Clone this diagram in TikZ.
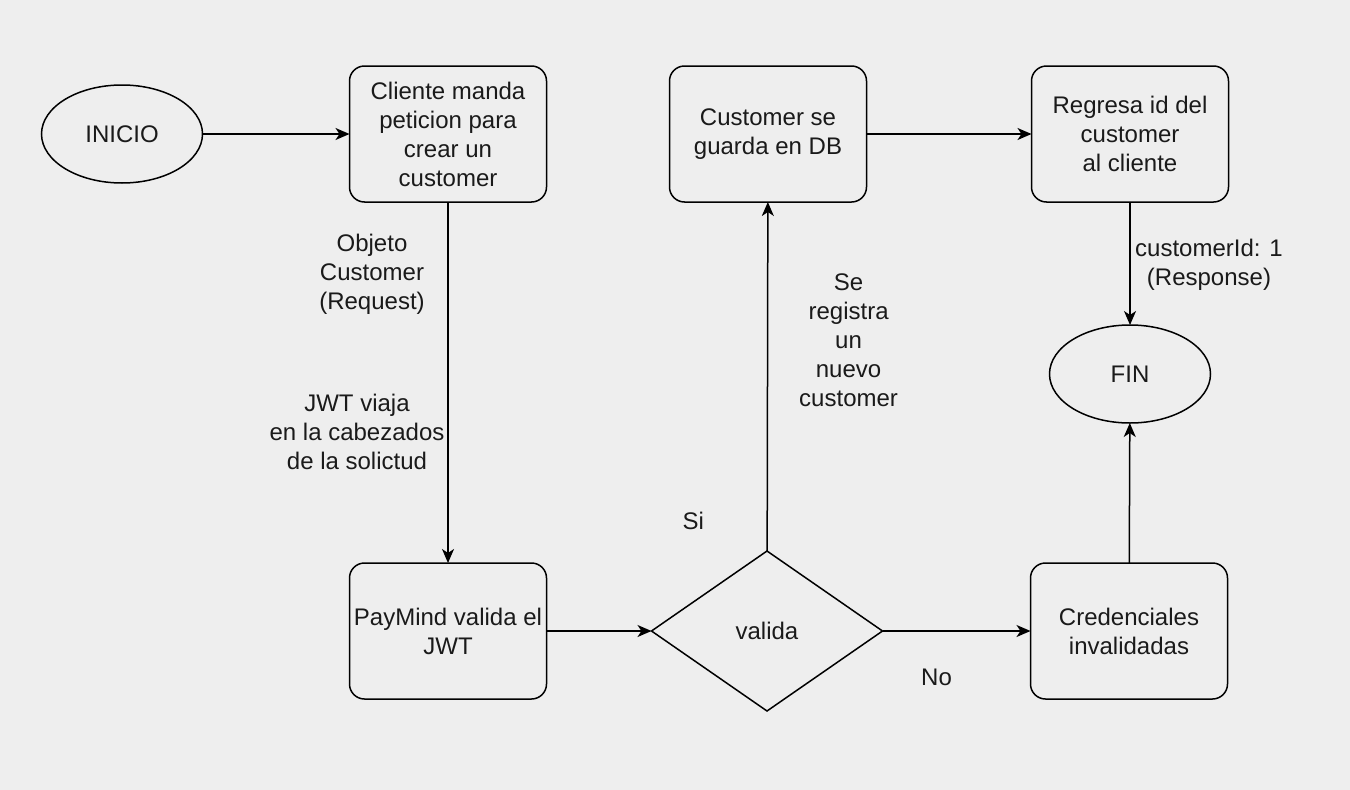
\documentclass[tikz,border=0pt]{standalone}
\usepackage{fontspec}
\setmainfont{Liberation Sans}
\usetikzlibrary{shapes.geometric, arrows.meta, positioning}

\definecolor{fondo}{HTML}{EEEEEE}
\definecolor{texto}{HTML}{1A1A1A}

\begin{document}
\begin{tikzpicture}[x=1pt,y=-1pt,
    font=\fontsize{24}{29}\selectfont, text=texto]

      \tikzstyle{inicio}=[ellipse,draw,line width=1.5pt,outer sep=0pt,
        minimum width=161pt,minimum height=98pt,inner sep=0pt]
      \tikzstyle{proceso}=[rectangle,rounded corners=15pt,draw,
        line width=1.5pt,outer sep=0pt,minimum width=197pt,
        minimum height=136pt,text centered,align=center]
      \tikzstyle{decision}=[diamond,draw,line width=1.5pt,outer sep=0pt,
        minimum width=231pt,minimum height=160pt,inner sep=0pt]
      \tikzstyle{flecha}=[line width=1.5pt,
        -{Stealth[length=14pt,width=12pt,inset=4pt]}]

      \fill[fondo] (0,0) rectangle (1350,790);
      \useasboundingbox (0,0) rectangle (1350,790);

      \node(INICIO)[inicio] at (122,134){INICIO};
      \node(Cliente)[proceso,right=147pt of INICIO]
        {Cliente manda\\peticion para\\crear un\\customer};
      \node(Guarda)[proceso,right=123pt of Cliente]
        {Customer se\\guarda en DB};
      \node(Regresa)[proceso,right=165pt of Guarda]
        {Regresa id del\\customer\\al cliente};
      \node(FIN)[inicio,below=123pt of Regresa]{FIN};

      \node(PayMind)[proceso,below=361pt of Cliente]
        {PayMind valida el\\JWT};
      \node(Valida)[decision,right=105pt of PayMind]{valida};
      \node(Credenciales)[proceso,right=148pt of Valida]
        {Credenciales\\invalidadas};

      \draw [flecha] (INICIO)--(Cliente);
      \draw [flecha] (Cliente)--(PayMind)
        node[pos=0.2,xshift=-76pt,align=center]
          {Objeto\\Customer\\(Request)}
        node[pos=0.637,xshift=-91pt,align=center]
          {JWT viaja\\en la cabezados\\de la solictud};
      \draw [flecha] (PayMind)--(Valida);
      \draw [flecha] (Valida)--(Guarda)
        node[pos=0.086,xshift=-74pt]{Si}
        node[pos=0.605,xshift=81pt,align=center]
          {Se\\registra\\un\\nuevo\\customer};
      \draw [flecha] (Valida)--(Credenciales)
        node[pos=0.365,yshift=-46pt]{No};
      \draw [flecha] (Guarda)--(Regresa);
      \draw [flecha] (Regresa)--(FIN)
        node[pos=0.51,xshift=79pt,align=center]
          {customerId: 1\\(Response)};
      \draw [flecha] (Credenciales)--(FIN);

    \end{tikzpicture}
\end{document}
